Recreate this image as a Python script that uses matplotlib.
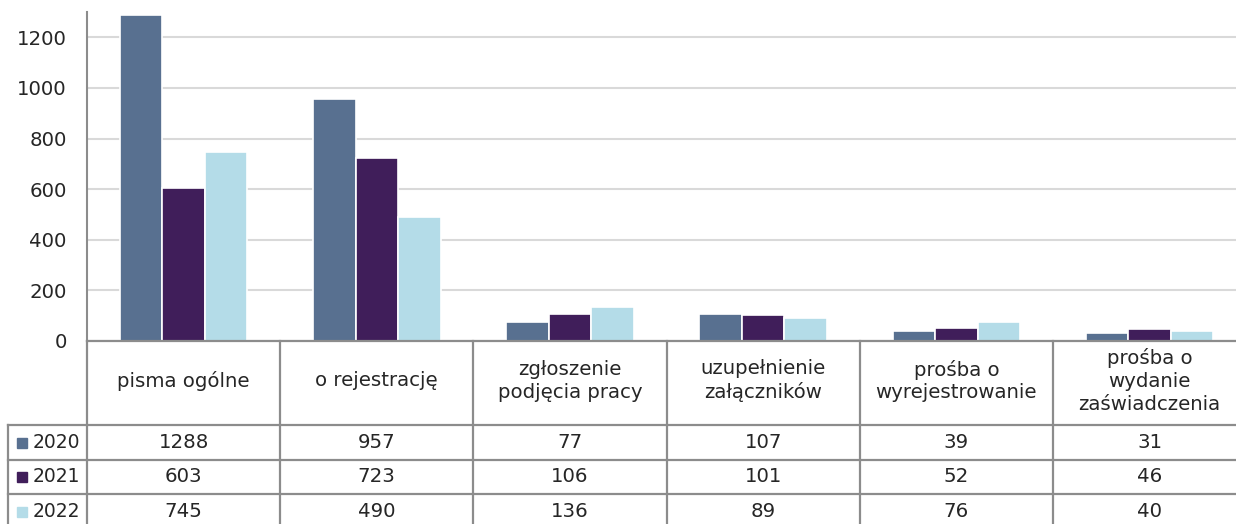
import matplotlib
matplotlib.use("Agg")
import matplotlib.pyplot as plt
import numpy as np
from matplotlib.transforms import blended_transform_factory

categories = ["pisma ogólne", "o rejestrację", "zgłoszenie\npodjęcia pracy",
              "uzupełnienie\nzałączników", "prośba o\nwyrejestrowanie",
              "prośba o\nwydanie\nzaświadczenia"]
years = ["2020", "2021", "2022"]
v2020 = [1288, 957, 77, 107, 39, 31]
v2021 = [603, 723, 106, 101, 52, 46]
v2022 = [745, 490, 136, 89, 76, 40]
series = [v2020, v2021, v2022]
colors = ["#587090", "#401E5A", "#B4DCE8"]
yticks = [0, 200, 400, 600, 800, 1000, 1200]

plt.rcParams['font.family'] = ['DejaVu Sans']
FS = 14.2
TC = "#262626"

W, H = 1236, 524
fig = plt.figure(figsize=(W/100, H/100), dpi=100)
col_w = 193.2
ax_left, ax_right = 87, 87 + 6*col_w
ax_top, ax_zero = 12, 341
ax = fig.add_axes([ax_left/W, (H-ax_zero)/H, (ax_right-ax_left)/W, (ax_zero-ax_top)/H])
ax.set_xlim(-0.5, 5.5)
ax.set_ylim(0, 1300)

x = np.arange(len(categories))
bw = 0.22
for i, (vals, c) in enumerate(zip(series, colors)):
    ax.bar(x + (i-1)*bw, vals, width=bw, color=c, edgecolor="white", linewidth=1.2, zorder=3)

ax.set_yticks(yticks)
ax.set_yticklabels([str(t) for t in yticks], fontsize=FS, color=TC)
ax.tick_params(axis='y', length=0, pad=14.5)
ax.set_xticks([])
ax.grid(axis='y', color="#d9d9d9", linewidth=1.5, zorder=0)
for s in ["top", "right", "bottom"]:
    ax.spines[s].set_visible(False)
ax.spines["left"].set_color("#8c8c8c")
ax.spines["left"].set_linewidth(1.5)

# Data table
tr = blended_transform_factory(ax.transData, fig.transFigure)
def fy(ypx):
    return (H - ypx) / H
lc = "#8c8c8c"
lw = 1.6
row_lines = [341, 425, 460, 494, 529]
xl_table = -0.5 - (87 - 8)/col_w
xr = 5.5
ax.plot([-0.5, xr], [fy(341)]*2, transform=tr, color=lc, lw=lw, clip_on=False, zorder=5)
for ypx in row_lines[1:]:
    ax.plot([xl_table, xr], [fy(ypx)]*2, transform=tr, color=lc, lw=lw, clip_on=False)
for k in range(7):
    ax.plot([k-0.5, k-0.5], [fy(341), fy(529)], transform=tr, color=lc, lw=lw, clip_on=False)
ax.plot([xl_table, xl_table], [fy(425), fy(529)], transform=tr, color=lc, lw=lw, clip_on=False)

for i, cat in enumerate(categories):
    ax.text(i, fy(381), cat, transform=tr, ha="center", va="center", fontsize=FS,
            color=TC, linespacing=1.25)
for r, (yr, vals, c) in enumerate(zip(years, series, colors)):
    yc = fy((row_lines[r+1] + row_lines[r+2]) / 2)
    ax.text(-0.5 - 54/col_w, yc, yr, transform=tr, ha="left", va="center", fontsize=FS-0.7, color=TC)
    ax.plot([-0.5 - 65/col_w], [yc], transform=tr, marker="s", ms=7, color=c,
            clip_on=False, linestyle="none")
    for i, v in enumerate(vals):
        ax.text(i, yc, str(v), transform=tr, ha="center", va="center", fontsize=FS, color=TC)

fig.savefig("out.png", dpi=100)
